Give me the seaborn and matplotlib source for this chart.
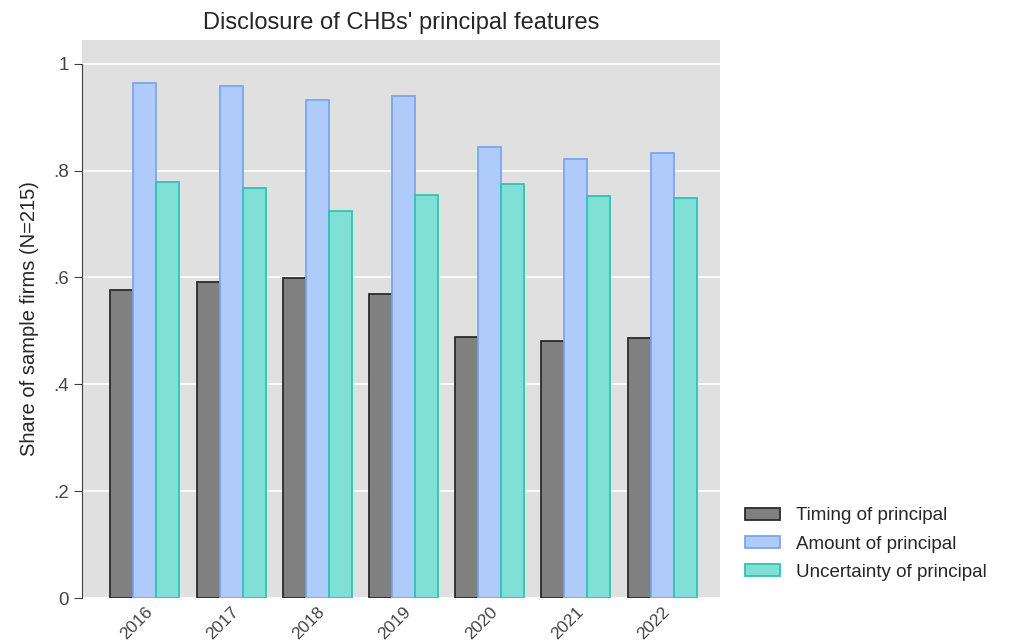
import matplotlib
matplotlib.use("Agg")
import matplotlib.pyplot as plt
import seaborn as sns
import pandas as pd

years = ["2016", "2017", "2018", "2019", "2020", "2021", "2022"]
timing = [0.577, 0.591, 0.599, 0.569, 0.489, 0.481, 0.487]
amount = [0.963, 0.959, 0.932, 0.939, 0.845, 0.822, 0.832]
uncertainty = [0.779, 0.767, 0.724, 0.754, 0.775, 0.752, 0.749]
series = ["Timing of principal", "Amount of principal", "Uncertainty of principal"]

fills = ["#808080", "#aecbfa", "#80e0d6"]
edges = ["#2b2b2b", "#7da5f2", "#2fc4b4"]

df = pd.DataFrame({
    "year": years * 3,
    "share": timing + amount + uncertainty,
    "series": [s for s in series for _ in years],
})

sns.set_style("white")
plt.rcParams["font.family"] = ["Liberation Sans", "DejaVu Sans"]

fig = plt.figure(figsize=(10.11, 6.44), dpi=100)
ax = fig.add_axes([0.081, 0.0714, 0.631, 0.867])

sns.barplot(data=df, x="year", y="share", hue="series", palette=fills,
            width=0.8, saturation=1, ax=ax, legend=False)

for cont, ec in zip(ax.containers, edges):
    for bar in cont:
        bar.set_edgecolor(ec)
        bar.set_linewidth(1.3)

ax.set_facecolor("#e0e0e0")
ax.set_ylim(0, 1.045)
ax.set_xlim(-0.73, 6.67)
ax.set_yticks([0, 0.2, 0.4, 0.6, 0.8, 1.0])
ax.set_yticklabels(["0", ".2", ".4", ".6", ".8", "1"])
ax.yaxis.grid(True, color="white", linewidth=1.2)
ax.set_axisbelow(True)
for s in ["top", "right", "bottom"]:
    ax.spines[s].set_visible(False)
ax.spines["left"].set_bounds(0, 1)
ax.spines["left"].set_color("#404040")
ax.tick_params(axis="y", left=True, length=6, color="#404040", labelsize=13.5, labelcolor="#454545")
ax.tick_params(axis="x", bottom=False, labelsize=12.5, labelcolor="#454545", pad=1)
plt.setp(ax.get_xticklabels(), rotation=45, ha="right", rotation_mode="anchor")
ax.set_xlabel("")
ax.set_ylabel("Share of sample firms (N=215)", fontsize=14.5, labelpad=10)
ax.set_title("Disclosure of CHBs' principal features", fontsize=17, pad=8)

handles = [plt.Rectangle((0, 0), 1, 1, facecolor=f, edgecolor=e, linewidth=1.3)
           for f, e in zip(fills, edges)]
fig.legend(handles, series, loc="lower left", bbox_to_anchor=(0.72, 0.072),
           frameon=False, fontsize=13.5, handlelength=1.9, handleheight=0.6,
           labelspacing=0.6, handletextpad=0.85)

fig.savefig("out.png", dpi=100)
